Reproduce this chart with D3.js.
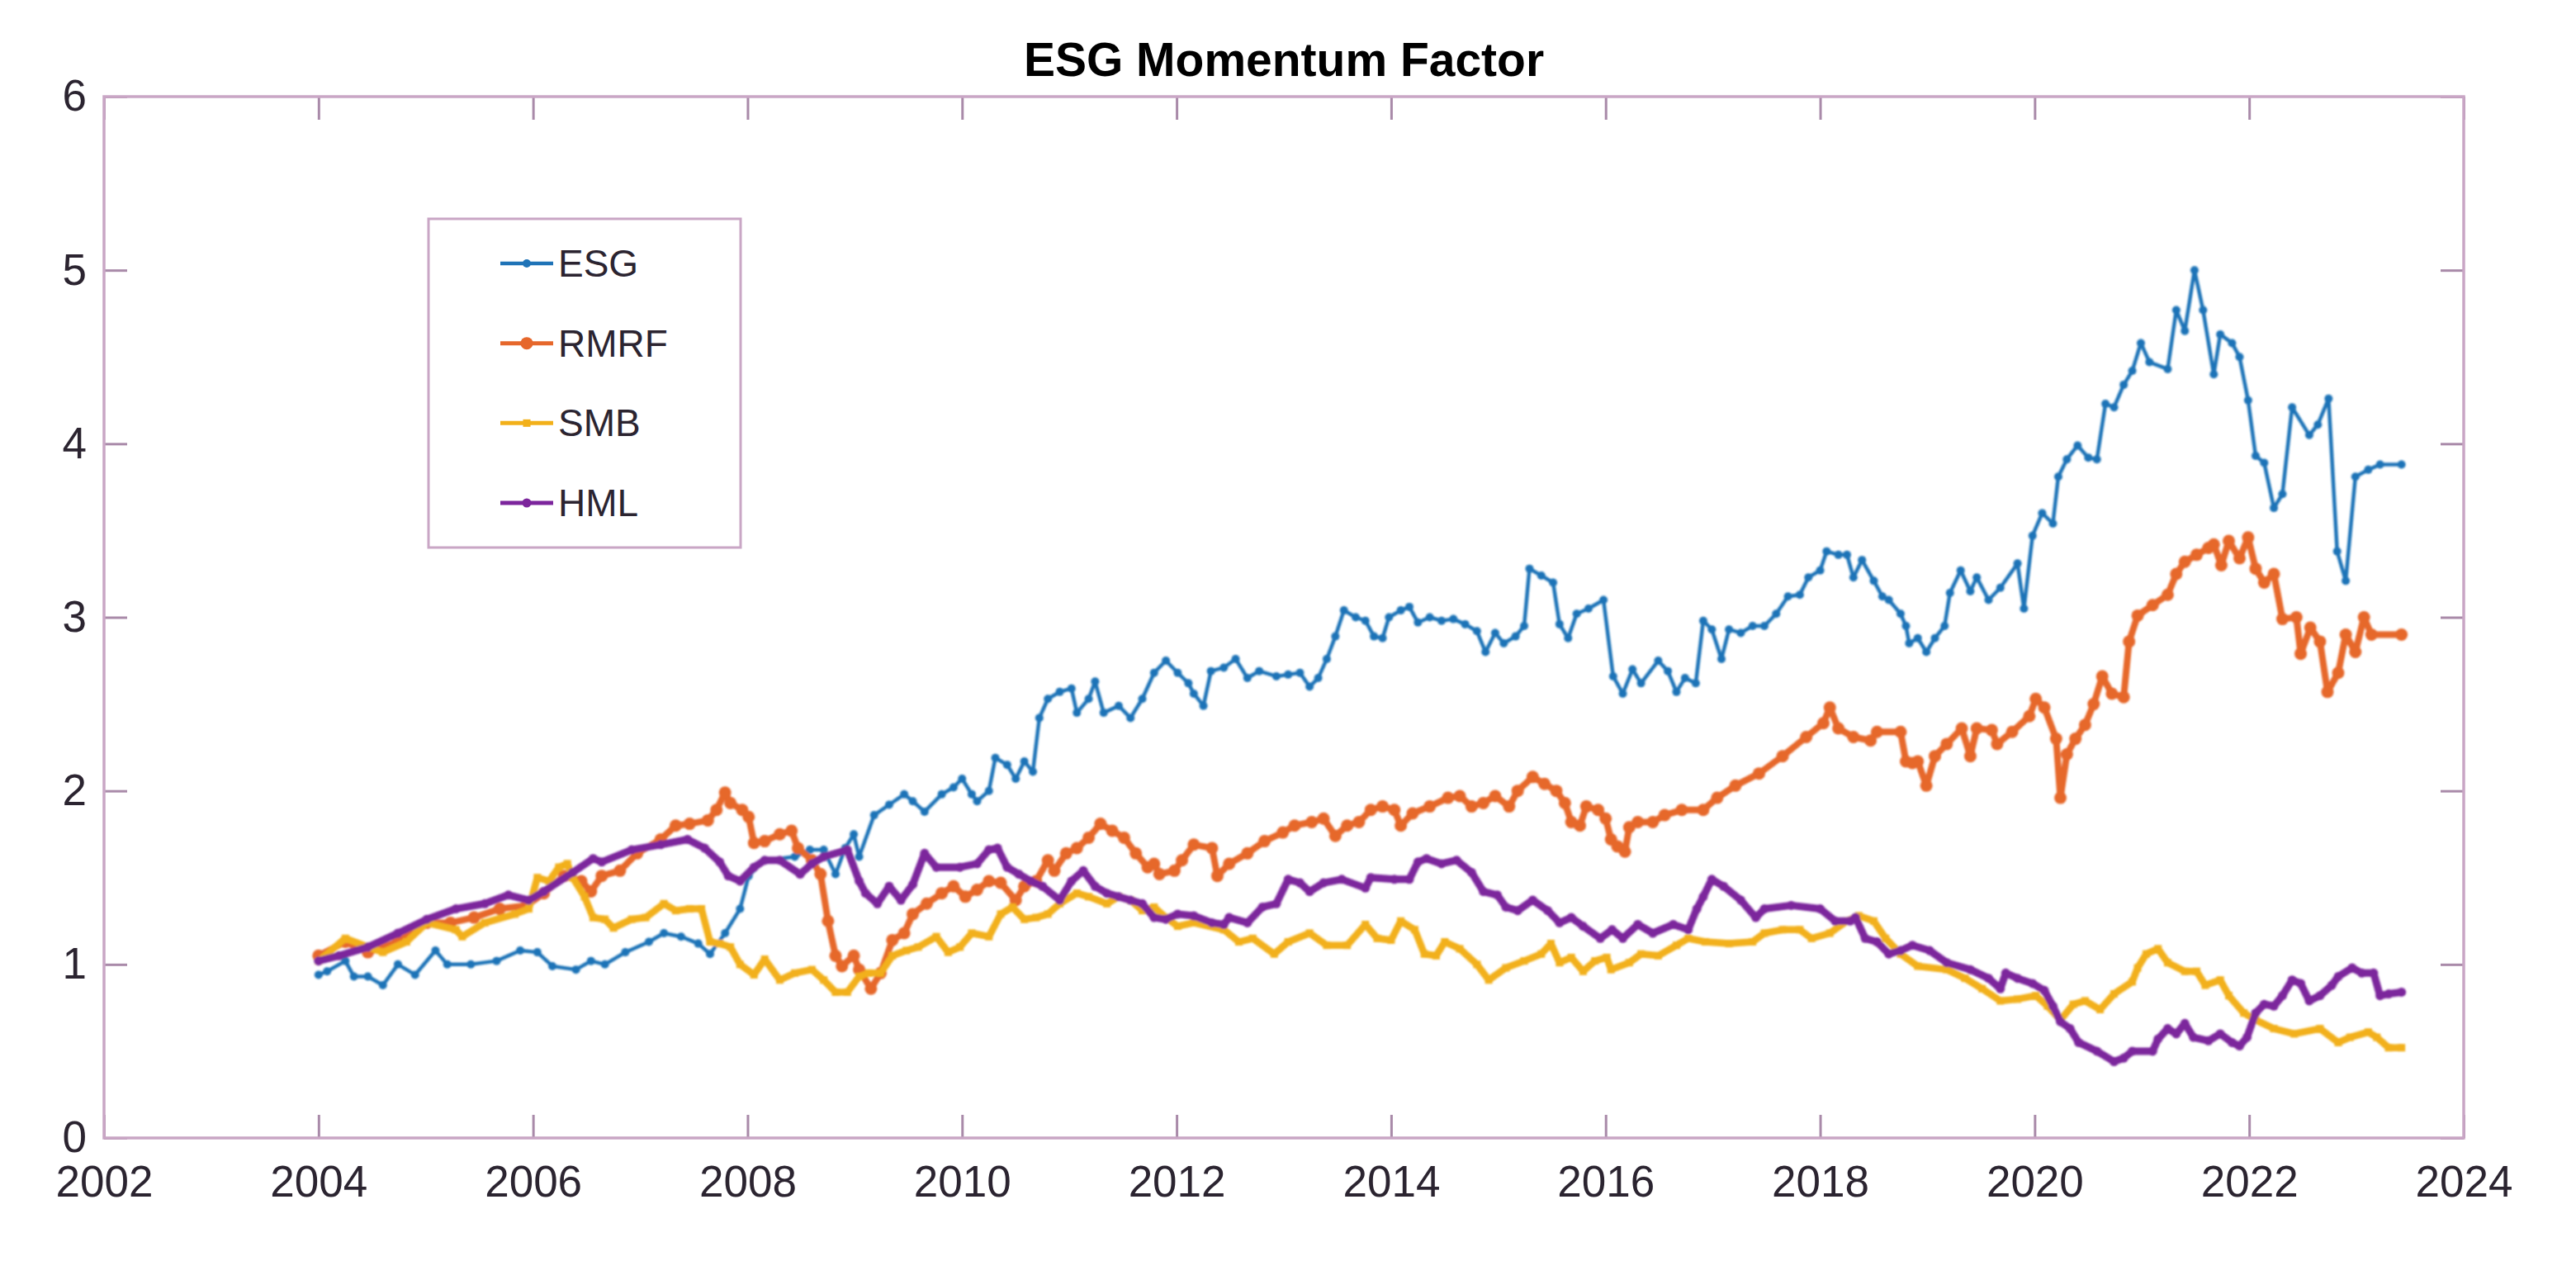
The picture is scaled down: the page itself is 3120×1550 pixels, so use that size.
<!DOCTYPE html>
<html>
<head>
<meta charset="utf-8">
<script src="https://cdn.jsdelivr.net/npm/d3@7"></script>
<style>
  html, body { margin: 0; padding: 0; background: #ffffff; }
  svg { display: block; }
  text { font-family: "Liberation Sans", Arial, Helvetica, sans-serif; }
</style>
</head>
<body>
<script>
// ---------------- DATA ----------------
const chartTitle = "ESG Momentum Factor";
const seriesNames = ["ESG", "RMRF", "SMB", "HML"];
const xTicks = [2002, 2004, 2006, 2008, 2010, 2012, 2014, 2016, 2018, 2020, 2022, 2024];
const yTicks = [0, 1, 2, 3, 4, 5, 6];

const esgYears = [2004.00,2004.08,2004.25,2004.33,2004.46,2004.60,2004.74,2004.90,2005.09,2005.20,2005.42,2005.66,2005.88,2006.04,2006.18,2006.40,2006.54,2006.67,2006.86,2007.08,2007.22,2007.38,2007.54,2007.65,2007.79,2007.93,2008.01,
  2008.16,2008.44,2008.58,2008.71,2008.82,2008.91,2008.99,2009.04,2009.18,2009.32,2009.46,2009.54,2009.65,2009.81,2009.92,2010.00,2010.09,2010.14,2010.25,2010.31,2010.42,2010.50,2010.58,2010.66,2010.72,2010.80,2010.91,2011.02,2011.07,2011.18,2011.24,2011.32,2011.46,2011.57,2011.68,2011.79,2011.90,2012.01,
  2012.11,2012.16,2012.25,2012.32,2012.44,2012.55,2012.66,2012.77,2012.93,2013.04,2013.15,2013.24,2013.32,2013.40,2013.48,2013.56,2013.67,2013.76,2013.84,2013.92,2013.98,2014.09,2014.17,2014.25,2014.36,2014.47,2014.58,2014.69,2014.80,2014.88,2014.97,2015.05,2015.16,2015.24,2015.29,2015.40,2015.51,2015.57,2015.65,2015.73,2015.84,2015.98,
  2016.07,2016.16,2016.25,2016.33,2016.49,2016.58,2016.66,2016.74,2016.84,2016.91,2016.99,2017.08,2017.15,2017.26,2017.37,2017.48,2017.59,2017.70,2017.81,2017.89,2018.00,2018.06,2018.17,2018.25,2018.31,2018.39,2018.50,2018.58,2018.64,2018.75,2018.80,2018.83,2018.91,2018.99,2019.07,2019.16,2019.21,2019.31,2019.40,2019.46,2019.57,2019.68,2019.84,2019.90,2019.98,
  2020.07,2020.17,2020.22,2020.30,2020.40,2020.50,2020.58,2020.66,2020.74,2020.83,2020.91,2020.99,2021.07,2021.24,2021.32,2021.40,2021.49,2021.57,2021.67,2021.73,2021.84,2021.91,2021.99,2022.06,2022.14,2022.23,2022.31,2022.40,2022.56,2022.64,2022.74,2022.82,2022.90,2022.99,2023.11,2023.22,2023.42];
const esgValues = [0.94,0.96,1.02,0.93,0.93,0.88,1.00,0.94,1.08,1.00,1.00,1.02,1.08,1.07,0.99,0.97,1.02,1.00,1.07,1.13,1.18,1.16,1.12,1.06,1.18,1.32,1.51,
  1.60,1.62,1.66,1.66,1.52,1.67,1.75,1.62,1.86,1.92,1.98,1.94,1.88,1.98,2.02,2.07,1.98,1.94,2.00,2.19,2.15,2.07,2.17,2.11,2.42,2.53,2.57,2.59,2.45,2.53,2.63,2.45,2.49,2.42,2.53,2.68,2.75,2.68,
  2.62,2.56,2.49,2.69,2.71,2.76,2.65,2.69,2.66,2.67,2.68,2.60,2.65,2.76,2.89,3.04,3.00,2.98,2.89,2.88,3.00,3.04,3.06,2.97,3.00,2.98,2.99,2.96,2.92,2.80,2.91,2.85,2.89,2.95,3.28,3.24,3.20,2.96,2.88,3.02,3.05,3.10,
  2.66,2.56,2.70,2.62,2.75,2.69,2.57,2.65,2.62,2.98,2.93,2.76,2.93,2.91,2.95,2.95,3.02,3.12,3.13,3.23,3.27,3.38,3.36,3.36,3.23,3.33,3.21,3.12,3.10,3.02,2.95,2.85,2.88,2.80,2.88,2.95,3.14,3.27,3.15,3.23,3.10,3.17,3.31,3.05,3.47,
  3.60,3.54,3.81,3.91,3.99,3.92,3.91,4.23,4.21,4.34,4.42,4.58,4.47,4.43,4.77,4.65,5.00,4.77,4.40,4.63,4.58,4.50,4.25,3.93,3.89,3.63,3.71,4.21,4.05,4.11,4.26,3.38,3.21,3.81,3.85,3.88,3.88];

const rmrfYears = [2004.00,2004.25,2004.46,2004.74,2005.01,2005.23,2005.45,2005.69,2005.94,2006.10,2006.29,2006.45,2006.54,2006.64,2006.81,2006.97,2007.19,2007.33,2007.46,2007.63,2007.71,2007.79,2007.84,2007.95,2008.01,2008.06,
  2008.16,2008.30,2008.41,2008.47,2008.60,2008.68,2008.75,2008.82,2008.88,2008.99,2009.04,2009.15,2009.24,2009.35,2009.46,2009.54,2009.67,2009.81,2009.92,2010.03,2010.14,2010.25,2010.36,2010.50,2010.58,2010.69,2010.80,2010.86,2010.97,2011.07,2011.18,2011.29,2011.40,2011.51,2011.62,2011.73,2011.79,2011.84,2011.98,
  2012.05,2012.16,2012.33,2012.38,2012.49,2012.66,2012.82,2012.99,2013.10,2013.26,2013.37,2013.48,2013.59,2013.70,2013.81,2013.92,2014.03,2014.09,2014.20,2014.36,2014.53,2014.64,2014.75,2014.86,2014.97,2015.10,2015.18,2015.32,2015.43,2015.54,2015.62,2015.68,2015.76,2015.82,2015.93,
  2016.00,2016.05,2016.11,2016.18,2016.22,2016.30,2016.44,2016.55,2016.71,2016.91,2017.04,2017.21,2017.43,2017.65,2017.87,2018.03,2018.09,2018.17,2018.31,2018.47,2018.53,2018.75,2018.80,2018.86,2018.91,2018.99,2019.07,2019.18,2019.32,2019.40,2019.46,2019.60,2019.65,2019.79,2019.95,2020.01,2020.09,
  2020.20,2020.24,2020.30,2020.38,2020.47,2020.55,2020.63,2020.72,2020.83,2020.88,2020.96,2021.10,2021.24,2021.32,2021.40,2021.51,2021.62,2021.67,2021.74,2021.81,2021.91,2021.99,2022.06,2022.14,2022.23,2022.31,2022.44,2022.48,2022.57,2022.66,2022.73,2022.83,2022.90,2022.99,2023.07,2023.14,2023.42];
const rmrfValues = [1.05,1.13,1.07,1.13,1.24,1.24,1.27,1.32,1.34,1.41,1.51,1.48,1.42,1.51,1.54,1.64,1.72,1.80,1.81,1.83,1.89,1.99,1.93,1.89,1.85,1.70,
  1.71,1.75,1.77,1.67,1.60,1.52,1.25,1.05,0.99,1.05,0.97,0.86,0.95,1.14,1.18,1.29,1.35,1.41,1.45,1.39,1.43,1.48,1.47,1.37,1.45,1.48,1.60,1.54,1.64,1.67,1.73,1.81,1.77,1.73,1.64,1.56,1.58,1.52,1.54,
  1.60,1.69,1.67,1.51,1.58,1.64,1.71,1.76,1.80,1.82,1.84,1.74,1.80,1.82,1.89,1.91,1.89,1.80,1.87,1.91,1.96,1.97,1.91,1.93,1.97,1.91,2.00,2.08,2.04,2.00,1.93,1.82,1.80,1.91,1.89,
  1.84,1.72,1.68,1.65,1.79,1.82,1.82,1.86,1.89,1.89,1.96,2.03,2.10,2.20,2.31,2.39,2.48,2.36,2.31,2.29,2.34,2.34,2.17,2.16,2.17,2.03,2.20,2.27,2.36,2.20,2.36,2.35,2.27,2.34,2.43,2.53,2.48,
  2.30,1.96,2.21,2.30,2.38,2.50,2.66,2.56,2.54,2.86,3.01,3.07,3.13,3.25,3.32,3.36,3.40,3.42,3.30,3.44,3.34,3.46,3.28,3.20,3.25,2.99,3.00,2.79,2.94,2.86,2.57,2.68,2.90,2.80,3.00,2.90,2.90];

const smbYears = [2004.00,2004.25,2004.46,2004.60,2004.82,2005.01,2005.28,2005.34,2005.55,2005.83,2005.96,2006.04,2006.15,2006.24,2006.32,2006.37,2006.48,2006.56,2006.67,2006.75,2006.92,2007.05,2007.22,2007.33,2007.46,2007.57,2007.65,2007.74,2007.84,2007.93,2008.06,
  2008.16,2008.30,2008.44,2008.60,2008.71,2008.82,2008.93,2009.04,2009.13,2009.24,2009.35,2009.48,2009.59,2009.76,2009.87,2009.98,2010.09,2010.25,2010.36,2010.47,2010.58,2010.69,2010.80,2010.91,2011.07,2011.18,2011.35,2011.46,2011.57,2011.68,2011.79,2011.90,2012.01,
  2012.16,2012.44,2012.58,2012.71,2012.91,2013.04,2013.24,2013.40,2013.59,2013.76,2013.87,2014.00,2014.09,2014.22,2014.31,2014.42,2014.50,2014.64,2014.80,2014.91,2015.07,2015.24,2015.40,2015.49,2015.57,2015.68,2015.79,2015.90,2016.01,
  2016.05,2016.22,2016.33,2016.49,2016.66,2016.77,2016.93,2017.15,2017.37,2017.48,2017.65,2017.81,2017.92,2018.09,2018.25,2018.36,2018.50,2018.61,2018.75,2018.91,2019.18,2019.35,2019.51,2019.68,2019.84,2020.01,
  2020.12,2020.24,2020.36,2020.47,2020.61,2020.74,2020.91,2020.96,2021.04,2021.15,2021.24,2021.40,2021.51,2021.59,2021.73,2021.81,2021.95,2022.06,2022.23,2022.42,2022.66,2022.83,2022.94,2023.11,2023.19,2023.30,2023.42];
const smbValues = [1.02,1.15,1.10,1.07,1.13,1.24,1.20,1.16,1.24,1.29,1.32,1.50,1.48,1.56,1.58,1.50,1.39,1.27,1.26,1.21,1.26,1.27,1.35,1.31,1.32,1.32,1.13,1.12,1.10,1.00,0.94,
  1.03,0.91,0.95,0.97,0.91,0.84,0.84,0.93,0.95,0.95,1.05,1.08,1.10,1.16,1.07,1.10,1.18,1.16,1.29,1.33,1.26,1.27,1.29,1.35,1.41,1.39,1.35,1.39,1.37,1.31,1.33,1.27,1.22,
  1.24,1.20,1.13,1.15,1.06,1.13,1.18,1.11,1.11,1.23,1.15,1.14,1.25,1.20,1.06,1.05,1.13,1.09,1.00,0.91,0.98,1.02,1.06,1.12,1.01,1.04,0.96,1.02,1.04,
  0.97,1.01,1.06,1.05,1.11,1.15,1.13,1.12,1.13,1.18,1.20,1.20,1.15,1.18,1.25,1.28,1.25,1.15,1.06,0.99,0.97,0.92,0.86,0.79,0.80,0.82,
  0.76,0.68,0.77,0.79,0.74,0.83,0.90,0.98,1.06,1.09,1.01,0.96,0.96,0.88,0.91,0.82,0.72,0.68,0.63,0.60,0.63,0.55,0.58,0.61,0.58,0.52,0.52];

const hmlYears = [2004.00,2004.19,2004.46,2004.74,2005.01,2005.28,2005.55,2005.77,2005.96,2006.10,2006.37,2006.56,2006.64,2006.92,2007.19,2007.44,2007.60,2007.74,2007.82,2007.93,2008.06,
  2008.16,2008.30,2008.49,2008.60,2008.71,2008.93,2009.04,2009.10,2009.21,2009.32,2009.43,2009.54,2009.65,2009.76,2009.98,2010.14,2010.25,2010.33,2010.42,2010.53,2010.64,2010.75,2010.91,2011.02,2011.13,2011.24,2011.35,2011.46,2011.57,2011.68,2011.79,2011.90,2012.01,
  2012.16,2012.33,2012.44,2012.49,2012.66,2012.80,2012.93,2013.04,2013.15,2013.24,2013.37,2013.54,2013.76,2013.81,2014.03,2014.17,2014.25,2014.33,2014.47,2014.61,2014.75,2014.86,2014.99,2015.07,2015.18,2015.32,2015.46,2015.57,2015.68,2015.79,2015.95,
  2016.06,2016.16,2016.30,2016.44,2016.63,2016.77,2016.85,2016.91,2016.99,2017.10,2017.26,2017.40,2017.48,2017.73,2018.00,2018.14,2018.28,2018.33,2018.42,2018.53,2018.64,2018.75,2018.86,2019.02,2019.18,2019.40,2019.57,2019.68,2019.73,2019.84,2019.98,
  2020.09,2020.17,2020.24,2020.33,2020.41,2020.58,2020.74,2020.83,2020.91,2021.10,2021.15,2021.24,2021.32,2021.40,2021.48,2021.62,2021.73,2021.84,2021.91,2021.98,2022.06,2022.14,2022.23,2022.31,2022.40,2022.48,2022.56,2022.66,2022.77,2022.83,2022.96,2023.05,2023.16,2023.22,2023.30,2023.42];
const hmlValues = [1.02,1.05,1.10,1.18,1.26,1.32,1.35,1.40,1.37,1.42,1.53,1.61,1.59,1.66,1.69,1.72,1.67,1.59,1.51,1.48,1.56,
  1.60,1.60,1.52,1.58,1.62,1.66,1.48,1.41,1.35,1.45,1.37,1.46,1.64,1.56,1.56,1.58,1.66,1.67,1.56,1.52,1.48,1.45,1.37,1.48,1.54,1.45,1.41,1.39,1.37,1.35,1.27,1.26,1.29,
  1.28,1.24,1.23,1.27,1.24,1.33,1.35,1.49,1.47,1.42,1.47,1.49,1.44,1.50,1.49,1.49,1.59,1.61,1.58,1.60,1.53,1.42,1.40,1.33,1.31,1.37,1.31,1.24,1.27,1.22,1.15,
  1.20,1.15,1.23,1.18,1.23,1.20,1.32,1.39,1.49,1.45,1.37,1.27,1.32,1.34,1.32,1.25,1.25,1.27,1.15,1.13,1.06,1.08,1.11,1.08,1.01,0.97,0.92,0.86,0.95,0.92,0.89,
  0.85,0.76,0.67,0.63,0.55,0.50,0.44,0.46,0.50,0.50,0.57,0.63,0.60,0.66,0.58,0.56,0.60,0.55,0.53,0.58,0.72,0.77,0.76,0.82,0.91,0.89,0.79,0.82,0.88,0.93,0.98,0.95,0.95,0.82,0.83,0.84];

// ---------------- LAYOUT / STYLE ----------------
const W = 3120, H = 1550;
const M = { left: 126, right: 2984, top: 117, bottom: 1378 };
const frameColor = "#c9a6c5";
const tickColor = "#a98aa9";
const labelColor = "#2b2430";

const styles = {
  ESG:  { color: "#1f73b7", width: 4.5, marker: "dot",    size: 5 },
  RMRF: { color: "#e6672b", width: 8,   marker: "circle", size: 7.5 },
  SMB:  { color: "#f2b01a", width: 8.5, marker: "square", size: 9 },
  HML:  { color: "#7c259c", width: 9,   marker: "dot",    size: 5.5 }
};

const series = [
  { name: "ESG",  data: d3.zip(esgYears,  esgValues) },
  { name: "RMRF", data: d3.zip(rmrfYears, rmrfValues) },
  { name: "SMB",  data: d3.zip(smbYears,  smbValues) },
  { name: "HML",  data: d3.zip(hmlYears,  hmlValues) }
];

const x = d3.scaleLinear().domain([xTicks[0], xTicks[xTicks.length - 1]]).range([M.left, M.right]);
const y = d3.scaleLinear().domain([yTicks[0], yTicks[yTicks.length - 1]]).range([M.bottom, M.top]);

const svg = d3.select("body").append("svg").attr("width", W).attr("height", H);
svg.append("rect").attr("width", W).attr("height", H).attr("fill", "#ffffff");

const defs = svg.append("defs");
defs.append("filter").attr("id", "soft").attr("x", "-5%").attr("y", "-5%").attr("width", "110%").attr("height", "110%")
  .append("feGaussianBlur").attr("stdDeviation", 1.1);

// Title
svg.append("text")
  .attr("x", (M.left + M.right) / 2).attr("y", 92)
  .attr("text-anchor", "middle")
  .attr("font-size", 57).attr("font-weight", "bold").attr("fill", "#000")
  .text(chartTitle);

// Axes
const tickLen = 28;
function styleAxis(g) {
  g.select(".domain").remove();
  g.selectAll(".tick line").attr("stroke", tickColor).attr("stroke-width", 3);
  g.selectAll(".tick text").attr("fill", labelColor).attr("font-size", 53)
    .attr("font-family", '"Liberation Sans", Arial, Helvetica, sans-serif');
}
svg.append("g").attr("transform", `translate(0,${M.bottom})`)
  .call(d3.axisBottom(x).tickValues(xTicks).tickFormat(d3.format("d")).tickSize(-tickLen).tickPadding(33))
  .call(styleAxis);
svg.append("g").attr("transform", `translate(0,${M.top})`)
  .call(d3.axisTop(x).tickValues(xTicks).tickFormat("").tickSize(-tickLen))
  .call(styleAxis);
svg.append("g").attr("transform", `translate(${M.left},0)`)
  .call(d3.axisLeft(y).tickValues(yTicks).tickFormat(d3.format("d")).tickSize(-tickLen).tickPadding(21))
  .call(styleAxis);
svg.append("g").attr("transform", `translate(${M.right},0)`)
  .call(d3.axisRight(y).tickValues(yTicks).tickFormat("").tickSize(-tickLen))
  .call(styleAxis);

// frame
svg.append("rect")
  .attr("x", M.left).attr("y", M.top)
  .attr("width", M.right - M.left).attr("height", M.bottom - M.top)
  .attr("fill", "none").attr("stroke", frameColor).attr("stroke-width", 3.5);

// Lines
const line = d3.line().x(d => x(d[0])).y(d => y(d[1]));
const plot = svg.append("g").attr("filter", "url(#soft)");

function drawMarkers(g, data, st, cx, cy) {
  if (st.marker === "square") {
    g.selectAll("rect.m").data(data).join("rect").attr("class", "m")
      .attr("x", d => cx(d) - st.size / 2).attr("y", d => cy(d) - st.size / 2)
      .attr("width", st.size).attr("height", st.size).attr("fill", st.color);
  } else {
    g.selectAll("circle.m").data(data).join("circle").attr("class", "m")
      .attr("cx", cx).attr("cy", cy).attr("r", st.size).attr("fill", st.color);
  }
}

series.forEach(s => {
  const st = styles[s.name];
  const g = plot.append("g");
  g.append("path").datum(s.data)
    .attr("d", line).attr("fill", "none")
    .attr("stroke", st.color).attr("stroke-width", st.width)
    .attr("stroke-linejoin", "round").attr("stroke-linecap", "round");
  drawMarkers(g, s.data, st, d => x(d[0]), d => y(d[1]));
});

// Legend
const legend = svg.append("g");
legend.append("rect")
  .attr("x", 519).attr("y", 265).attr("width", 378).attr("height", 398)
  .attr("fill", "#ffffff").attr("stroke", frameColor).attr("stroke-width", 3);
const legendY = d3.scalePoint().domain(seriesNames).range([319, 609]);
seriesNames.forEach(name => {
  const st = styles[name];
  const ly = legendY(name);
  const g = legend.append("g");
  g.append("line").attr("x1", 606).attr("x2", 670).attr("y1", ly).attr("y2", ly)
    .attr("stroke", st.color).attr("stroke-width", Math.min(st.width, 5));
  drawMarkers(g, [[638, ly]], st, d => d[0], d => d[1]);
  g.append("text").attr("x", 676).attr("y", ly).attr("dy", "0.35em")
    .attr("font-size", 46).attr("fill", labelColor).text(name);
});
</script>
</body>
</html>
